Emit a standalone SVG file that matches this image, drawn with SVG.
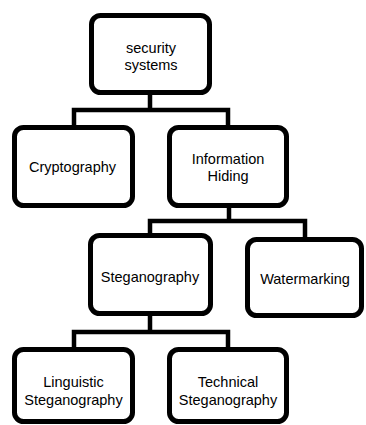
<svg xmlns="http://www.w3.org/2000/svg" width="366" height="425" viewBox="0 0 366 425">
<style>
.box{fill:#fff;stroke:#000;stroke-width:5}
.conn{fill:none;stroke:#000;stroke-width:4.5}
text{font-family:"Liberation Sans",Arial,sans-serif;font-size:14.5px;fill:#000;text-anchor:middle}
</style>
<rect width="366" height="425" fill="#fff"/>
<g id="connectors">
<path class="conn" d="M150,95 V110 M74,125 V110 H228 V125"/>
<path class="conn" d="M229,208 V221 M150,233 V221 H305 V237"/>
<path class="conn" d="M150,316 V332 M74,347 V332 H228 V347"/>
</g>
<g id="security-systems">
<rect class="box" x="91.5" y="15.5" width="118" height="77" rx="9"/>
<text x="151" y="52.5">security</text>
<text x="151" y="69.5">systems</text>
</g>
<g id="cryptography">
<rect class="box" x="14.5" y="127.5" width="118" height="78" rx="9"/>
<text x="72.5" y="172">Cryptography</text>
</g>
<g id="information-hiding">
<rect class="box" x="169.5" y="127.5" width="117" height="78" rx="9"/>
<text x="228" y="164">Information</text>
<text x="228" y="181">Hiding</text>
</g>
<g id="steganography">
<rect class="box" x="90.5" y="235.5" width="120" height="78" rx="9"/>
<text x="150" y="282">Steganography</text>
</g>
<g id="watermarking">
<rect class="box" x="247.5" y="239.5" width="114" height="76" rx="9"/>
<text x="305" y="284">Watermarking</text>
</g>
<g id="linguistic-steganography">
<rect class="box" x="14.5" y="349.5" width="118" height="72" rx="9"/>
<text x="73.5" y="387">Linguistic</text>
<text x="73.5" y="405">Steganography</text>
</g>
<g id="technical-steganography">
<rect class="box" x="169.5" y="349.5" width="117" height="72" rx="9"/>
<text x="228" y="387">Technical</text>
<text x="228" y="405">Steganography</text>
</g>
</svg>
